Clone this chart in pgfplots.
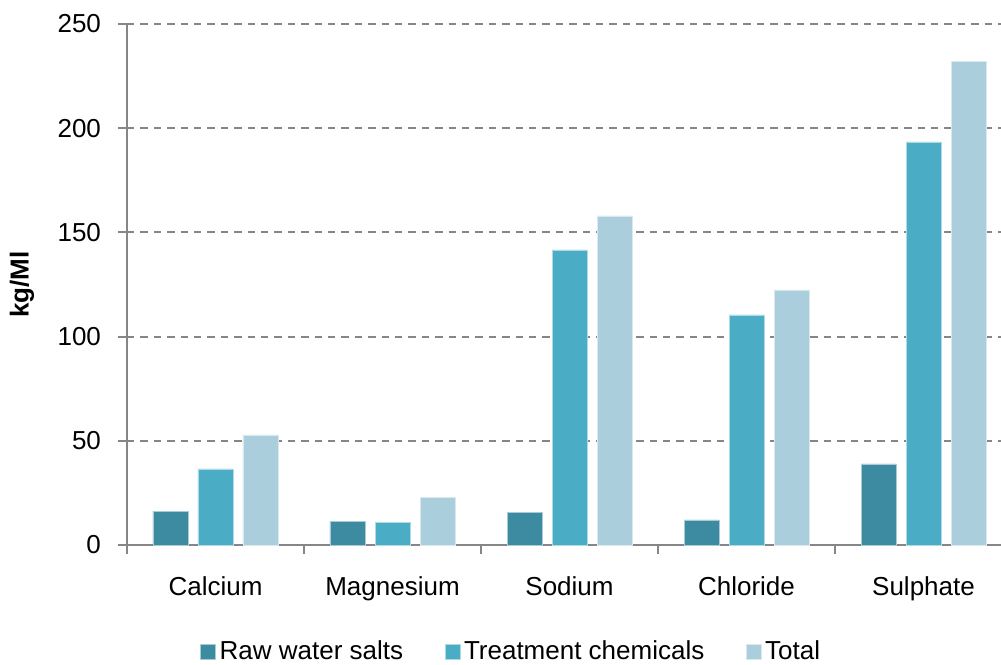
\documentclass[border=0pt]{standalone}
\usepackage{pgfplots}
\pgfplotsset{compat=1.18}
\usepackage{fontspec}
\setmainfont{Liberation Sans}

\definecolor{rawc}{RGB}{61,139,161}
\definecolor{treatc}{RGB}{75,172,198}
\definecolor{totalc}{RGB}{170,206,220}
\definecolor{axisgray}{RGB}{134,134,134}

\newcommand{\chartfont}{\fontsize{13}{15.5}\selectfont}

\begin{document}
\begin{tikzpicture}
\path[use as bounding box] (-63.5pt,-59.5pt) rectangle (437pt,272.5pt);
\begin{axis}[
  at={(0,0)}, anchor=south west,
  scale only axis, width=442.5pt, height=260.5pt,
  xmin=-0.5, xmax=4.5, ymin=0, ymax=250,
  axis lines*=left,
  axis line style={axisgray, line width=1pt},
  ytick={0,50,...,250},
  xtick={-0.5,0.5,...,4.5},
  x tick label as interval,
  xticklabels={Calcium,Magnesium,Sodium,Chloride,Sulphate},
  tick align=outside,
  major tick length=4.5pt,
  tick style={axisgray, line width=1pt},
  ymajorgrids,
  grid style={axisgray, line width=1pt, dash pattern=on 3.7pt off 3pt},
  /pgf/number format/assume math mode=true,
  tick label style={font=\chartfont, text=black},
  xticklabel style={yshift=-8pt},
  yticklabel style={xshift=-5pt},
  ylabel={kg/Ml},
  every axis y label/.style={at={(axis description cs:-0.1186,0.5)}, rotate=90,
    anchor=center, font=\chartfont\bfseries},
  legend columns=-1,
  legend style={at={(axis description cs:0.0825,-0.2054)}, anchor=west,
    draw=none, fill=none, inner sep=0pt, font=\chartfont,
    /tikz/every even column/.append style={column sep=19pt},
    nodes={inner sep=1.75pt}},
  legend image code/.code={\fill[#1] (0pt,-3.75pt) rectangle (7.5pt,3.75pt);},
]
\addplot[ybar, bar width=17.5pt, bar shift=-22.5pt, fill=rawc, draw=white!55!rawc, line width=0.4pt]
  coordinates {(0,16.3) (1,11.5) (2,15.8) (3,12.0) (4,38.9)};
\addlegendentry{Raw water salts}
\addplot[ybar, bar width=17.5pt, bar shift=0pt, fill=treatc, draw=white!55!treatc, line width=0.4pt]
  coordinates {(0,36.5) (1,11.0) (2,141.6) (3,110.4) (4,193.4)};
\addlegendentry{Treatment chemicals}
\addplot[ybar, bar width=17.5pt, bar shift=22.5pt, fill=totalc, draw=white!55!totalc, line width=0.4pt]
  coordinates {(0,52.8) (1,23.0) (2,157.9) (3,122.4) (4,232.2)};
\addlegendentry{Total}
\end{axis}
\end{tikzpicture}
\end{document}
